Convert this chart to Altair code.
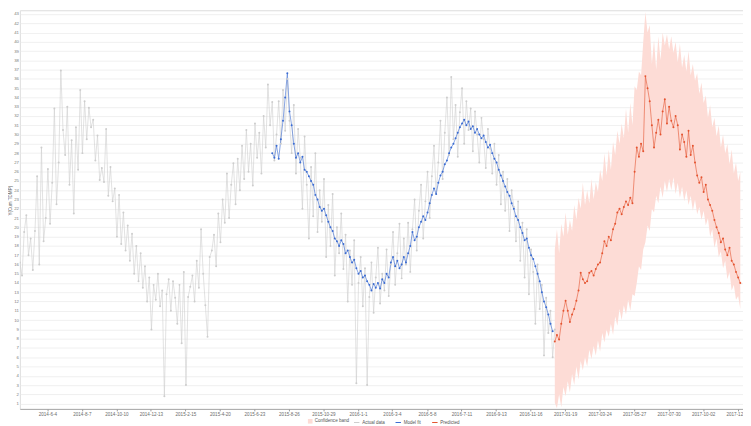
import altair as alt
import pandas as pd

# ---------------- data ----------------
start_date = "2014-04-14"   # first observation, 4-day sampling
step_days = 4

actual = [
    16.2, 14.8, 19.5, 21.3, 17.0, 18.8, 15.4, 19.6, 25.5, 16.0,
    28.6, 18.5, 21.0, 26.3, 20.4, 24.8, 32.8, 22.5, 27.0, 36.9,
    30.5, 27.8, 33.0, 24.6, 29.4, 21.5, 30.8, 26.2, 34.8, 28.0,
    33.6, 29.5, 32.9, 30.8, 31.6, 27.2, 29.9, 25.1, 26.4, 24.9,
    30.6, 23.4, 26.5, 22.8, 24.2, 19.0, 23.5, 18.2, 21.6, 17.5,
    20.2, 16.4, 19.3, 15.0, 18.0, 14.2, 17.2, 13.5, 15.8, 12.0,
    14.6, 9.0, 13.8, 12.2, 15.0, 11.5, 13.2, 1.8, 12.8, 14.4,
    11.0, 14.2, 12.4, 9.6, 13.8, 7.5, 15.2, 3.0, 12.5, 13.6,
    14.8, 12.0, 16.4, 13.5, 19.8, 15.0, 11.6, 8.2, 16.8, 17.5,
    19.2, 15.8, 21.5, 18.4, 23.0, 20.5, 25.8, 21.0, 24.6, 26.9,
    22.5, 27.4, 24.0, 28.8, 25.2, 30.5, 26.0, 29.0, 24.5, 31.2,
    27.5, 30.2, 25.8, 32.0, 28.6, 35.4, 31.0, 33.5, 27.2, 30.0,
    33.6, 29.0, 34.8, 30.4, 36.0, 31.5, 28.0, 33.2, 25.8, 30.6,
    27.5, 22.0, 29.8, 24.6, 18.8, 26.5, 21.2, 28.0, 19.5, 24.0,
    20.6, 25.2, 16.8, 22.4, 18.0, 23.6, 14.8, 20.0, 17.2, 21.5,
    15.5, 19.2, 12.0, 17.5, 13.8, 18.6, 3.2, 14.0, 16.8, 11.5,
    15.6, 3.0, 12.5, 16.2, 10.8, 14.6, 17.8, 11.8, 15.0, 13.2,
    17.6, 12.6, 16.0, 19.5, 13.8, 17.2, 20.4, 14.5, 18.8, 16.0,
    20.5, 15.2, 19.8, 23.0, 17.5, 21.8, 24.6, 18.8, 22.8, 26.0,
    21.0, 25.5, 28.8, 23.6, 27.0, 31.5, 25.2, 30.2, 34.0, 27.8,
    36.2, 29.5, 33.2, 27.6, 32.4, 35.0, 29.0, 33.6, 30.5, 32.8,
    28.2, 32.5, 30.0, 27.0, 31.8, 29.5, 26.4, 30.6, 28.5, 25.8,
    29.0, 24.6, 27.8, 22.5, 26.0, 21.8, 25.2, 19.6, 24.0, 22.2,
    18.5, 22.8, 16.4, 20.5, 14.6, 19.8, 12.8, 17.6, 15.2, 9.6,
    16.0, 11.2, 13.8, 6.2, 12.4, 8.6, 11.0, 6.0, 9.0,
]

model_start_index = 117
model_fit = [
    28.0, 27.5, 28.8, 27.4, 29.5, 31.5, 34.0, 36.6, 32.5, 31.0,
    29.0, 27.5, 28.0, 27.0, 27.6, 26.2, 26.0, 25.5, 25.0, 24.6,
    23.5, 23.0, 22.2, 21.8, 22.0, 21.3, 20.6, 20.0, 19.6, 18.8,
    18.5, 18.0, 18.6, 18.2, 17.2, 17.5, 16.8, 16.2, 16.5, 15.6,
    15.0, 15.3, 14.6, 14.8, 14.2, 13.8, 13.2, 13.9, 13.5, 14.0,
    13.4, 14.4, 14.0, 15.0, 14.6, 16.2, 16.8, 15.8, 16.4, 15.6,
    16.0, 16.8, 16.2, 17.2, 18.0, 19.5, 18.6, 19.0, 20.0, 20.6,
    21.2, 20.8, 21.6, 22.6, 23.5, 24.2, 23.6, 24.8, 25.6, 26.0,
    26.8, 27.2, 28.0, 28.6, 29.0, 29.6, 30.2, 30.8, 31.2, 31.6,
    31.0, 31.4, 30.6, 30.9, 30.2, 30.6, 30.0, 29.6, 29.9, 29.2,
    28.6, 28.9, 28.0, 27.4, 27.0, 26.2, 25.6, 25.0, 24.4, 23.8,
    23.4, 22.6, 22.0, 21.2, 20.8, 20.0, 19.4, 18.6, 18.8, 17.8,
    17.0, 16.6, 15.8, 15.0, 14.2, 13.0, 12.0, 11.4, 10.6, 9.6,
    8.8,
]

pred_start_index = 248
predicted = [
    7.7, 8.4, 7.9, 9.6, 11.0, 12.1, 11.0, 9.8, 10.6, 11.2,
    12.1, 13.2, 15.1, 14.4, 14.0, 14.2, 15.1, 15.3, 14.8, 15.5,
    16.0, 16.2, 17.2, 18.5, 18.0, 19.0, 18.6, 19.8, 20.4, 21.6,
    22.0, 21.4, 22.2, 22.8, 22.4, 23.2, 22.6, 26.0, 28.6, 27.6,
    29.0, 28.2, 36.3, 35.0, 33.6, 31.0, 28.6, 30.2, 31.6, 30.0,
    32.5, 33.8, 31.2, 33.0, 31.5, 30.8, 32.0, 31.0, 28.4, 30.0,
    29.2, 27.6, 30.4, 27.8, 28.8, 27.0, 25.6, 24.8, 25.4, 23.8,
    24.6, 23.0, 22.4, 21.8, 20.8, 20.0, 19.4, 18.4, 18.8, 17.6,
    17.0, 17.8, 16.4, 16.0, 15.2, 14.6, 14.0,
]
band_upper = [
    17.6, 19.8, 17.2, 20.4, 19.0, 21.6, 19.2, 20.8, 19.6, 22.4,
    20.8, 23.2, 22.0, 24.8, 22.4, 24.0, 22.6, 25.2, 23.0, 24.9,
    23.8, 26.2, 25.0, 28.0, 25.6, 28.4, 26.2, 29.2, 27.8, 30.4,
    29.0, 31.2, 29.6, 32.8, 30.2, 33.4, 31.0, 35.2, 34.8, 36.8,
    36.4, 40.0, 43.2, 41.0, 41.8, 37.6, 40.2, 37.0, 40.6, 38.0,
    41.0, 39.6, 40.8, 39.2, 40.6, 38.8, 40.0, 37.8, 39.8, 37.2,
    38.6, 36.8, 39.0, 36.4, 37.6, 35.8, 36.6, 34.4, 35.6, 33.4,
    34.2, 31.8, 33.2, 30.8, 31.8, 29.8, 31.0, 28.6, 30.0, 28.0,
    29.0, 26.8, 28.4, 25.8, 27.0, 25.0, 26.0,
]
band_lower = [
    1.1, 0.5, 2.0, 0.6, 2.8, 1.8, 3.4, 2.2, 4.2, 3.0,
    5.0, 3.6, 5.6, 4.6, 6.0, 5.0, 6.8, 5.8, 7.2, 6.2,
    7.8, 6.6, 8.6, 7.6, 9.0, 8.2, 9.6, 8.4, 10.4, 9.4,
    11.2, 10.0, 11.6, 10.6, 12.2, 11.0, 12.8, 12.6, 14.0, 15.8,
    15.4, 17.6, 18.4, 20.2, 19.6, 22.0, 21.6, 23.4, 22.6, 24.4,
    23.2, 25.0, 23.8, 25.2, 24.0, 25.4, 23.6, 24.8, 23.2, 24.4,
    22.8, 24.0, 22.4, 23.4, 21.8, 23.0, 21.4, 22.2, 20.8, 21.8,
    20.2, 21.0, 19.0, 19.8, 17.8, 18.8, 16.8, 17.4, 15.6, 16.4,
    14.4, 15.2, 13.2, 13.8, 12.2, 12.6, 11.2,
]

x_tick_labels = [
    "2014-6-4", "2014-8-7", "2014-10-10", "2014-12-13", "2015-2-15",
    "2015-4-20", "2015-6-23", "2015-8-26", "2015-10-29", "2016-1-1",
    "2016-3-4", "2016-5-8", "2016-7-11", "2016-9-13", "2016-11-16",
    "2017-01-19", "2017-03-24", "2017-05-27", "2017-07-30", "2017-10-02",
    "2017-12-05",
]
x_domain = ["2014-04-14", "2017-12-15"]
y_ticks = list(range(1, 44))
y_domain = [0.43, 43.4]
series_names = ["Actual data", "Model fit", "Predicted"]
series_colors = ["#cdcdcd", "#3a6bd2", "#e4532f"]
band_name = "Confidence band"
band_color = "#fddcd6"

# ---------------- build tables ----------------
n_total = pred_start_index + len(predicted)
dates = pd.date_range(start_date, periods=n_total, freq=f"{step_days}D")

rows = []
for i, v in enumerate(actual):
    rows.append({"date": dates[i], "value": v, "series": series_names[0]})
for k, v in enumerate(model_fit):
    rows.append({"date": dates[model_start_index + k], "value": v, "series": series_names[1]})
for k, v in enumerate(predicted):
    rows.append({"date": dates[pred_start_index + k], "value": v, "series": series_names[2]})
lines_df = pd.DataFrame(rows)

band_df = pd.DataFrame({
    "date": dates[pred_start_index:pred_start_index + len(band_upper)],
    "lo": band_lower,
    "hi": band_upper,
    "kind": band_name,
})


def to_dt(s):
    y, m, d = (int(p) for p in s.split("-"))
    return alt.DateTime(year=y, month=m, date=d)


x_scale = alt.Scale(domain=[to_dt(x_domain[0]), to_dt(x_domain[1])], nice=False)
y_scale = alt.Scale(domain=y_domain, nice=False, zero=False)

x_axis = alt.Axis(
    values=[to_dt(s) for s in x_tick_labels],
    labelExpr="year(datum.value) >= 2017 ? timeFormat(datum.value, '%Y-%m-%d') : timeFormat(datum.value, '%Y-%-m-%-d')",
    title=None, grid=False, labelFontSize=4.6, labelColor="#6a6a6a",
    domainColor="#9a9a9a", domainWidth=0.8, tickColor="#9a9a9a", tickSize=2,
    labelPadding=1, labelFlush=False, labelOverlap=False,
)
y_axis = alt.Axis(
    values=y_ticks, title="Y(Cum TDMP)", titleFontSize=4.6, titleFontWeight="normal",
    titleColor="#6a6a6a", titleX=-7.5, titleY=192, titleAngle=270,
    titleBaseline="bottom", titleAlign="center",
    labelFontSize=4.3, labelColor="#7a7a7a", labelPadding=1.5, tickSize=0,
    domain=False, grid=True, gridColor="#e9e9e9", gridWidth=0.7, labelOverlap=False,
)

band = alt.Chart(band_df).mark_area(opacity=1, clip=True, interpolate="linear").encode(
    x=alt.X("date:T", scale=x_scale, axis=x_axis),
    y=alt.Y("lo:Q", scale=y_scale, axis=y_axis),
    y2="hi:Q",
    fill=alt.Fill("kind:N", scale=alt.Scale(domain=[band_name], range=[band_color]),
                  legend=alt.Legend(orient="none", legendX=291, legendY=413, title=None,
                                    direction="horizontal", symbolType="square", symbolSize=22,
                                    labelFontSize=4.6, labelColor="#555555", labelOffset=2,
                                    padding=0, symbolStrokeWidth=0)),
)

lines = alt.Chart(lines_df).mark_line(
    strokeWidth=0.6, clip=True,
    point=alt.OverlayMarkDef(filled=True, size=4),
).encode(
    x=alt.X("date:T", scale=x_scale, axis=x_axis),
    y=alt.Y("value:Q", scale=y_scale, axis=y_axis),
    color=alt.Color("series:N", scale=alt.Scale(domain=series_names, range=series_colors),
                    sort=series_names,
                    legend=alt.Legend(orient="none", legendX=337, legendY=413, title=None,
                                      direction="horizontal", symbolType="stroke", symbolSize=30,
                                      symbolStrokeWidth=1, labelFontSize=4.6, labelColor="#555555",
                                      labelOffset=2, columnPadding=8, padding=0)),
    detail="series:N",
)

chart = alt.layer(band, lines).properties(
    width=731, height=403,
    autosize=alt.AutoSizeParams(type="none"),
    padding={"left": 12, "top": 0, "right": 0, "bottom": 15},
).configure_view(stroke=None).configure(font="Liberation Sans", background="white")

chart.save("out.html", embed_options={"renderer": "svg", "actions": False})
